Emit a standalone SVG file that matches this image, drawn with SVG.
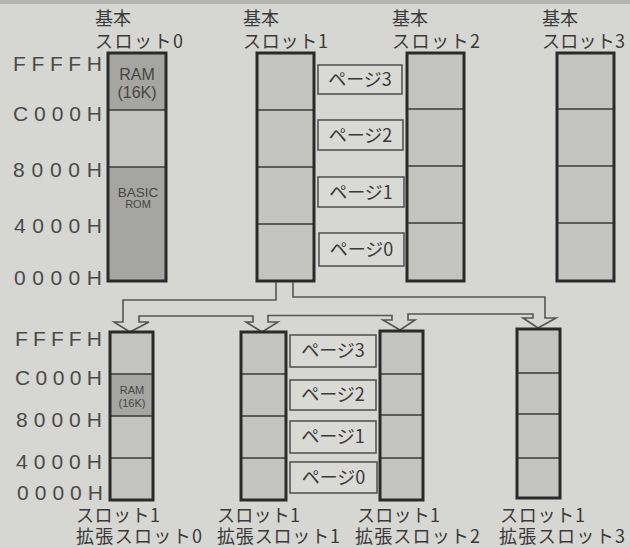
<svg xmlns="http://www.w3.org/2000/svg" width="630" height="547" viewBox="0 0 630 547">
<style>
  .bg { fill: #d6d6d2; }
  .cell { fill: #c3c3bf; }
  .dark { fill: #a5a5a1; }
  .frame { fill: none; stroke: #2a2a2a; stroke-width: 3; }
  .div { stroke: #3a3a3a; stroke-width: 1.5; }
  .pg { fill: #d9d9d5; stroke: #555; stroke-width: 1.6; }
  .jp { font-family: "Noto Sans CJK JP", "Noto Sans", sans-serif; fill: #3a3a3a; }
  .t19 { font-size: 18px; }
  .pgt { font-size: 18px; text-anchor: middle; }
  .addr { font-family: "Liberation Sans", Arial, sans-serif; font-size: 21px; fill: #4a4a4a; }
  .lbl { font-family: "Liberation Sans", Arial, sans-serif; fill: #454545; text-anchor: middle; }
  .conn { fill: none; stroke: #555; stroke-width: 1.6; stroke-linejoin: miter; }
</style>
<rect class="bg" x="0" y="0" width="630" height="547"/>
<rect x="0" y="0" width="630" height="4" fill="#b4b4b0"/>

<!-- address labels top -->
<g id="addr-top">
  <text class="addr" x="13" y="71" textLength="89" lengthAdjust="spacing">FFFFH</text>
  <text class="addr" x="13" y="121" textLength="89" lengthAdjust="spacing">C000H</text>
  <text class="addr" x="13" y="177" textLength="89" lengthAdjust="spacing">8000H</text>
  <text class="addr" x="14" y="233" textLength="88" lengthAdjust="spacing">4000H</text>
  <text class="addr" x="14" y="285" textLength="88" lengthAdjust="spacing">0000H</text>
</g>
<g id="addr-bottom">
  <text class="addr" x="15" y="346" textLength="87" lengthAdjust="spacing">FFFFH</text>
  <text class="addr" x="15" y="385" textLength="87" lengthAdjust="spacing">C000H</text>
  <text class="addr" x="16" y="427" textLength="86" lengthAdjust="spacing">8000H</text>
  <text class="addr" x="16" y="469" textLength="86" lengthAdjust="spacing">4000H</text>
  <text class="addr" x="17" y="500" textLength="86" lengthAdjust="spacing">0000H</text>
</g>

<!-- basic slot 0 -->
<g id="slot0">
  <text class="jp t19" x="95" y="25">基本</text>
  <text class="jp t19" x="95" y="48" textLength="88" lengthAdjust="spacing">スロット0</text>
  <rect class="dark" x="108" y="53" width="58" height="57"/>
  <rect class="cell" x="108" y="110" width="58" height="57"/>
  <rect class="dark" x="108" y="167" width="58" height="114"/>
  <line class="div" x1="108" y1="110" x2="166" y2="110"/>
  <line class="div" x1="108" y1="167" x2="166" y2="167"/>
  <rect class="frame" x="108" y="53" width="58" height="228"/>
  <text class="lbl" x="137" y="80" font-size="16">RAM</text>
  <text class="lbl" x="137" y="98" font-size="16">(16K)</text>
  <text class="lbl" x="138" y="197" font-size="13.5">BASIC</text>
  <text class="lbl" x="138" y="208" font-size="11" fill="#8c8c88">ROM</text>
</g>

<!-- basic slot 1 -->
<g id="slot1">
  <text class="jp t19" x="243" y="25">基本</text>
  <text class="jp t19" x="243" y="48" textLength="85" lengthAdjust="spacing">スロット1</text>
  <rect class="cell" x="257" y="53" width="57" height="228"/>
  <line class="div" x1="257" y1="110" x2="314" y2="110"/>
  <line class="div" x1="257" y1="167" x2="314" y2="167"/>
  <line class="div" x1="257" y1="224" x2="314" y2="224"/>
  <rect class="frame" x="257" y="53" width="57" height="228"/>
</g>

<!-- page labels top -->
<g id="pages-top">
  <rect class="pg" x="318" y="65" width="84" height="29"/>
  <text class="jp pgt" x="360" y="86">ページ3</text>
  <rect class="pg" x="318" y="120" width="85" height="30"/>
  <text class="jp pgt" x="360.5" y="142">ページ2</text>
  <rect class="pg" x="318" y="177" width="86" height="30"/>
  <text class="jp pgt" x="361" y="199">ページ1</text>
  <rect class="pg" x="319" y="233" width="85" height="33"/>
  <text class="jp pgt" x="361.5" y="256">ページ0</text>
</g>

<!-- basic slot 2 -->
<g id="slot2">
  <text class="jp t19" x="392" y="25">基本</text>
  <text class="jp t19" x="392" y="48" textLength="88" lengthAdjust="spacing">スロット2</text>
  <rect class="cell" x="407" y="53" width="57" height="228"/>
  <line class="div" x1="407" y1="109" x2="464" y2="109"/>
  <line class="div" x1="407" y1="166" x2="464" y2="166"/>
  <line class="div" x1="407" y1="223" x2="464" y2="223"/>
  <rect class="frame" x="407" y="53" width="57" height="228"/>
</g>

<!-- basic slot 3 -->
<g id="slot3">
  <text class="jp t19" x="542" y="25">基本</text>
  <text class="jp t19" x="542" y="48" textLength="83" lengthAdjust="spacing">スロット3</text>
  <rect class="cell" x="557" y="53" width="57" height="228"/>
  <line class="div" x1="557" y1="109" x2="614" y2="109"/>
  <line class="div" x1="557" y1="166" x2="614" y2="166"/>
  <line class="div" x1="557" y1="223" x2="614" y2="223"/>
  <rect class="frame" x="557" y="53" width="57" height="228"/>
</g>

<!-- connectors -->
<g id="connectors">
  <path class="conn" d="M276,282 V300 H123 V322 H114 L130,332 L149,322 H139 V316 H253 V322 H246 L262,332 L278,322 H268 V315.5 H392 V320 H383 L400,330 L415,320 H408 V314 H533 V318 H523 L538,328 L556,318 H545 V297 H293 V282"/>
</g>

<!-- expansion slot 0 -->
<g id="ext0">
  <rect class="cell" x="110" y="332" width="43" height="168"/>
  <rect class="dark" x="110" y="374" width="43" height="42"/>
  <line class="div" x1="110" y1="374" x2="153" y2="374"/>
  <line class="div" x1="110" y1="416" x2="153" y2="416"/>
  <line class="div" x1="110" y1="458" x2="153" y2="458"/>
  <rect class="frame" x="110" y="332" width="43" height="168"/>
  <text class="lbl" x="132" y="394" font-size="11">RAM</text>
  <text class="lbl" x="132" y="407" font-size="11">(16K)</text>
  <text class="jp t19" x="76" y="522" textLength="84" lengthAdjust="spacing">スロット1</text>
  <text class="jp t19" x="76" y="543" textLength="126" lengthAdjust="spacing">拡張スロット0</text>
</g>

<!-- expansion slot 1 -->
<g id="ext1">
  <rect class="cell" x="241" y="332" width="45" height="168"/>
  <line class="div" x1="241" y1="374" x2="286" y2="374"/>
  <line class="div" x1="241" y1="416" x2="286" y2="416"/>
  <line class="div" x1="241" y1="458" x2="286" y2="458"/>
  <rect class="frame" x="241" y="332" width="45" height="168"/>
  <text class="jp t19" x="217" y="522" textLength="83" lengthAdjust="spacing">スロット1</text>
  <text class="jp t19" x="217" y="543" textLength="123" lengthAdjust="spacing">拡張スロット1</text>
</g>

<!-- page labels bottom -->
<g id="pages-bottom">
  <rect class="pg" x="290" y="335" width="86" height="32"/>
  <text class="jp pgt" x="333" y="357">ページ3</text>
  <rect class="pg" x="290" y="380" width="86" height="30"/>
  <text class="jp pgt" x="333" y="401">ページ2</text>
  <rect class="pg" x="290" y="421" width="86" height="32"/>
  <text class="jp pgt" x="333" y="443">ページ1</text>
  <rect class="pg" x="290" y="462" width="87" height="31"/>
  <text class="jp pgt" x="333.5" y="484">ページ0</text>
</g>

<!-- expansion slot 2 -->
<g id="ext2">
  <rect class="cell" x="380" y="331" width="43" height="169"/>
  <line class="div" x1="380" y1="374" x2="423" y2="374"/>
  <line class="div" x1="380" y1="415" x2="423" y2="415"/>
  <line class="div" x1="380" y1="458" x2="423" y2="458"/>
  <rect class="frame" x="380" y="331" width="43" height="169"/>
  <text class="jp t19" x="357" y="522" textLength="83" lengthAdjust="spacing">スロット1</text>
  <text class="jp t19" x="355" y="543" textLength="125" lengthAdjust="spacing">拡張スロット2</text>
</g>

<!-- expansion slot 3 -->
<g id="ext3">
  <rect class="cell" x="517" y="329" width="43" height="169"/>
  <line class="div" x1="517" y1="373" x2="560" y2="373"/>
  <line class="div" x1="517" y1="414" x2="560" y2="414"/>
  <line class="div" x1="517" y1="458" x2="560" y2="458"/>
  <rect class="frame" x="517" y="329" width="43" height="169"/>
  <text class="jp t19" x="500" y="522" textLength="85" lengthAdjust="spacing">スロット1</text>
  <text class="jp t19" x="499" y="543" textLength="126" lengthAdjust="spacing">拡張スロット3</text>
</g>
</svg>
